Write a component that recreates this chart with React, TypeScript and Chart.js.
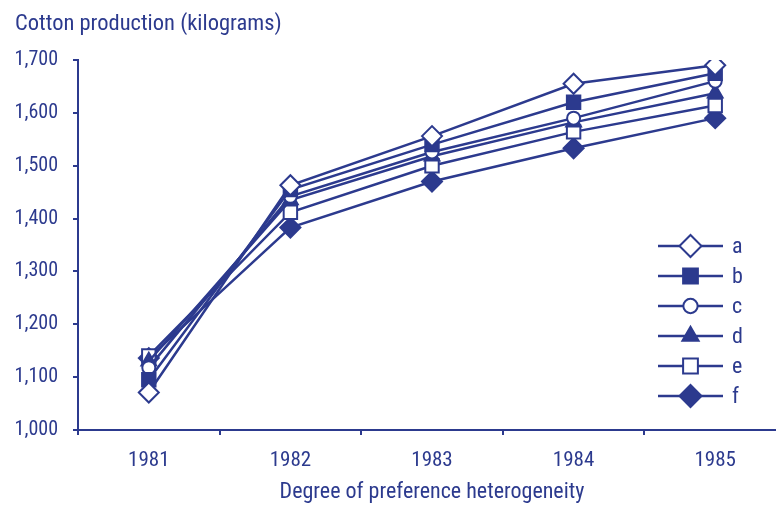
import React, { useEffect, useRef } from "react";
import { Chart, registerables } from "chart.js";
import { drawPoint } from "chart.js/helpers";

Chart.register(...registerables);

const years = ["1981", "1982", "1983", "1984", "1985"];
const seriesA = [1071, 1463, 1556, 1655, 1690];
const seriesB = [1095, 1455, 1540, 1620, 1675];
const seriesC = [1118, 1442, 1526, 1590, 1660];
const seriesD = [1130, 1435, 1518, 1582, 1637];
const seriesE = [1140, 1412, 1500, 1564, 1614];
const seriesF = [1136, 1383, 1470, 1533, 1590];
const seriesLabels = ["a", "b", "c", "d", "e", "f"];
const yTicks = [1000, 1100, 1200, 1300, 1400, 1500, 1600, 1700];
const chartTitle = "Cotton production (kilograms)";
const xTitle = "Degree of preference heterogeneity";

const BLUE = "#2c3a8e";
const FONT = "'Roboto Condensed', 'Liberation Sans', sans-serif";

const styles = [
  { pointStyle: "rectRot", radius: 10, filled: false },
  { pointStyle: "rect", radius: 9.5, filled: true },
  { pointStyle: "circle", radius: 6.5, filled: false },
  { pointStyle: "triangle", radius: 8.5, filled: true },
  { pointStyle: "rect", radius: 9.5, filled: false },
  { pointStyle: "rectRot", radius: 10, filled: true },
];

const legendPlugin = {
  id: "lineLegend",
  afterDraw(chart: any) {
    const ctx = chart.ctx;
    const x0 = 658;
    const x1 = 723;
    const yStart = 246;
    const step = 30;
    ctx.save();
    chart.data.datasets.forEach((ds: any, i: number) => {
      const y = yStart + i * step;
      ctx.strokeStyle = BLUE;
      ctx.lineWidth = 2.5;
      ctx.beginPath();
      ctx.moveTo(x0, y);
      ctx.lineTo(x1, y);
      ctx.stroke();
      ctx.fillStyle = ds.pointBackgroundColor;
      ctx.strokeStyle = BLUE;
      ctx.lineWidth = 2;
      drawPoint(ctx, { pointStyle: ds.pointStyle, radius: ds.pointRadius * 1.1, rotation: 0, borderWidth: 2 }, (x0 + x1) / 2, y);
      ctx.fillStyle = BLUE;
      ctx.font = `22px ${FONT}`;
      ctx.textBaseline = "middle";
      ctx.textAlign = "left";
      ctx.fillText(ds.label, 732, y + 1);
    });
    ctx.restore();
  },
};

const titlePlugin = {
  id: "leftTitle",
  afterDraw(chart: any) {
    const ctx = chart.ctx;
    ctx.save();
    ctx.fillStyle = BLUE;
    ctx.font = `22.5px ${FONT}`;
    ctx.textBaseline = "middle";
    ctx.textAlign = "left";
    ctx.fillText(chartTitle, 15, 24);
    ctx.restore();
  },
};

export default function App() {
  const ref = useRef<HTMLCanvasElement>(null);
  useEffect(() => {
    const all = [seriesA, seriesB, seriesC, seriesD, seriesE, seriesF];
    const chart = new Chart(ref.current!, {
      type: "line",
      data: {
        labels: years,
        datasets: all.map((data, i) => ({
          label: seriesLabels[i],
          data,
          borderColor: BLUE,
          borderWidth: 2.5,
          pointStyle: styles[i].pointStyle as any,
          pointRadius: styles[i].radius,
          pointBorderWidth: 2,
          pointBorderColor: BLUE,
          pointBackgroundColor: styles[i].filled ? BLUE : "#ffffff",
          tension: 0,
          fill: false,
        })),
      },
      options: {
        animation: false,
        responsive: false,
        maintainAspectRatio: false,
        devicePixelRatio: 1,
        layout: { padding: { left: 0, right: 0, top: 60, bottom: 0 } },
        plugins: {
          legend: { display: false },
          tooltip: { enabled: false },
          title: { display: false },
        },
        scales: {
          x: {
            type: "category",
            offset: true,
            grid: { display: true, drawOnChartArea: false, drawTicks: true, tickLength: 5, color: BLUE, lineWidth: 2, offset: true },
            border: { display: true, color: BLUE, width: 2 },
            ticks: { color: BLUE, font: { family: FONT, size: 21 }, padding: 13 },
            title: {
              display: true,
              text: xTitle,
              color: BLUE,
              font: { family: FONT, size: 22 },
              padding: { top: 6, bottom: 0 },
            },
            afterFit(scale: any) {
              scale.height = 76;
            },
          },
          y: {
            min: 1000,
            max: 1700,
            afterBuildTicks(scale: any) {
              scale.ticks = yTicks.map((v) => ({ value: v }));
            },
            grid: { display: true, drawOnChartArea: false, drawTicks: true, tickLength: 5, color: BLUE, lineWidth: 2 },
            border: { display: true, color: BLUE, width: 2 },
            ticks: {
              color: BLUE,
              font: { family: FONT, size: 20 },
              padding: 15,
              callback: (v: any) => Number(v).toLocaleString("en-US"),
            },
            afterFit(scale: any) {
              scale.width = 78;
            },
          },
        },
      },
      plugins: [legendPlugin, titlePlugin],
    });
    return () => chart.destroy();
  }, []);
  return (
    <div style={{ position: "absolute", left: 0, top: 0, width: 776, height: 506, overflow: "hidden", background: "#fff" }}>
      <canvas ref={ref} width={798} height={506} style={{ display: "block" }} />
    </div>
  );
}
